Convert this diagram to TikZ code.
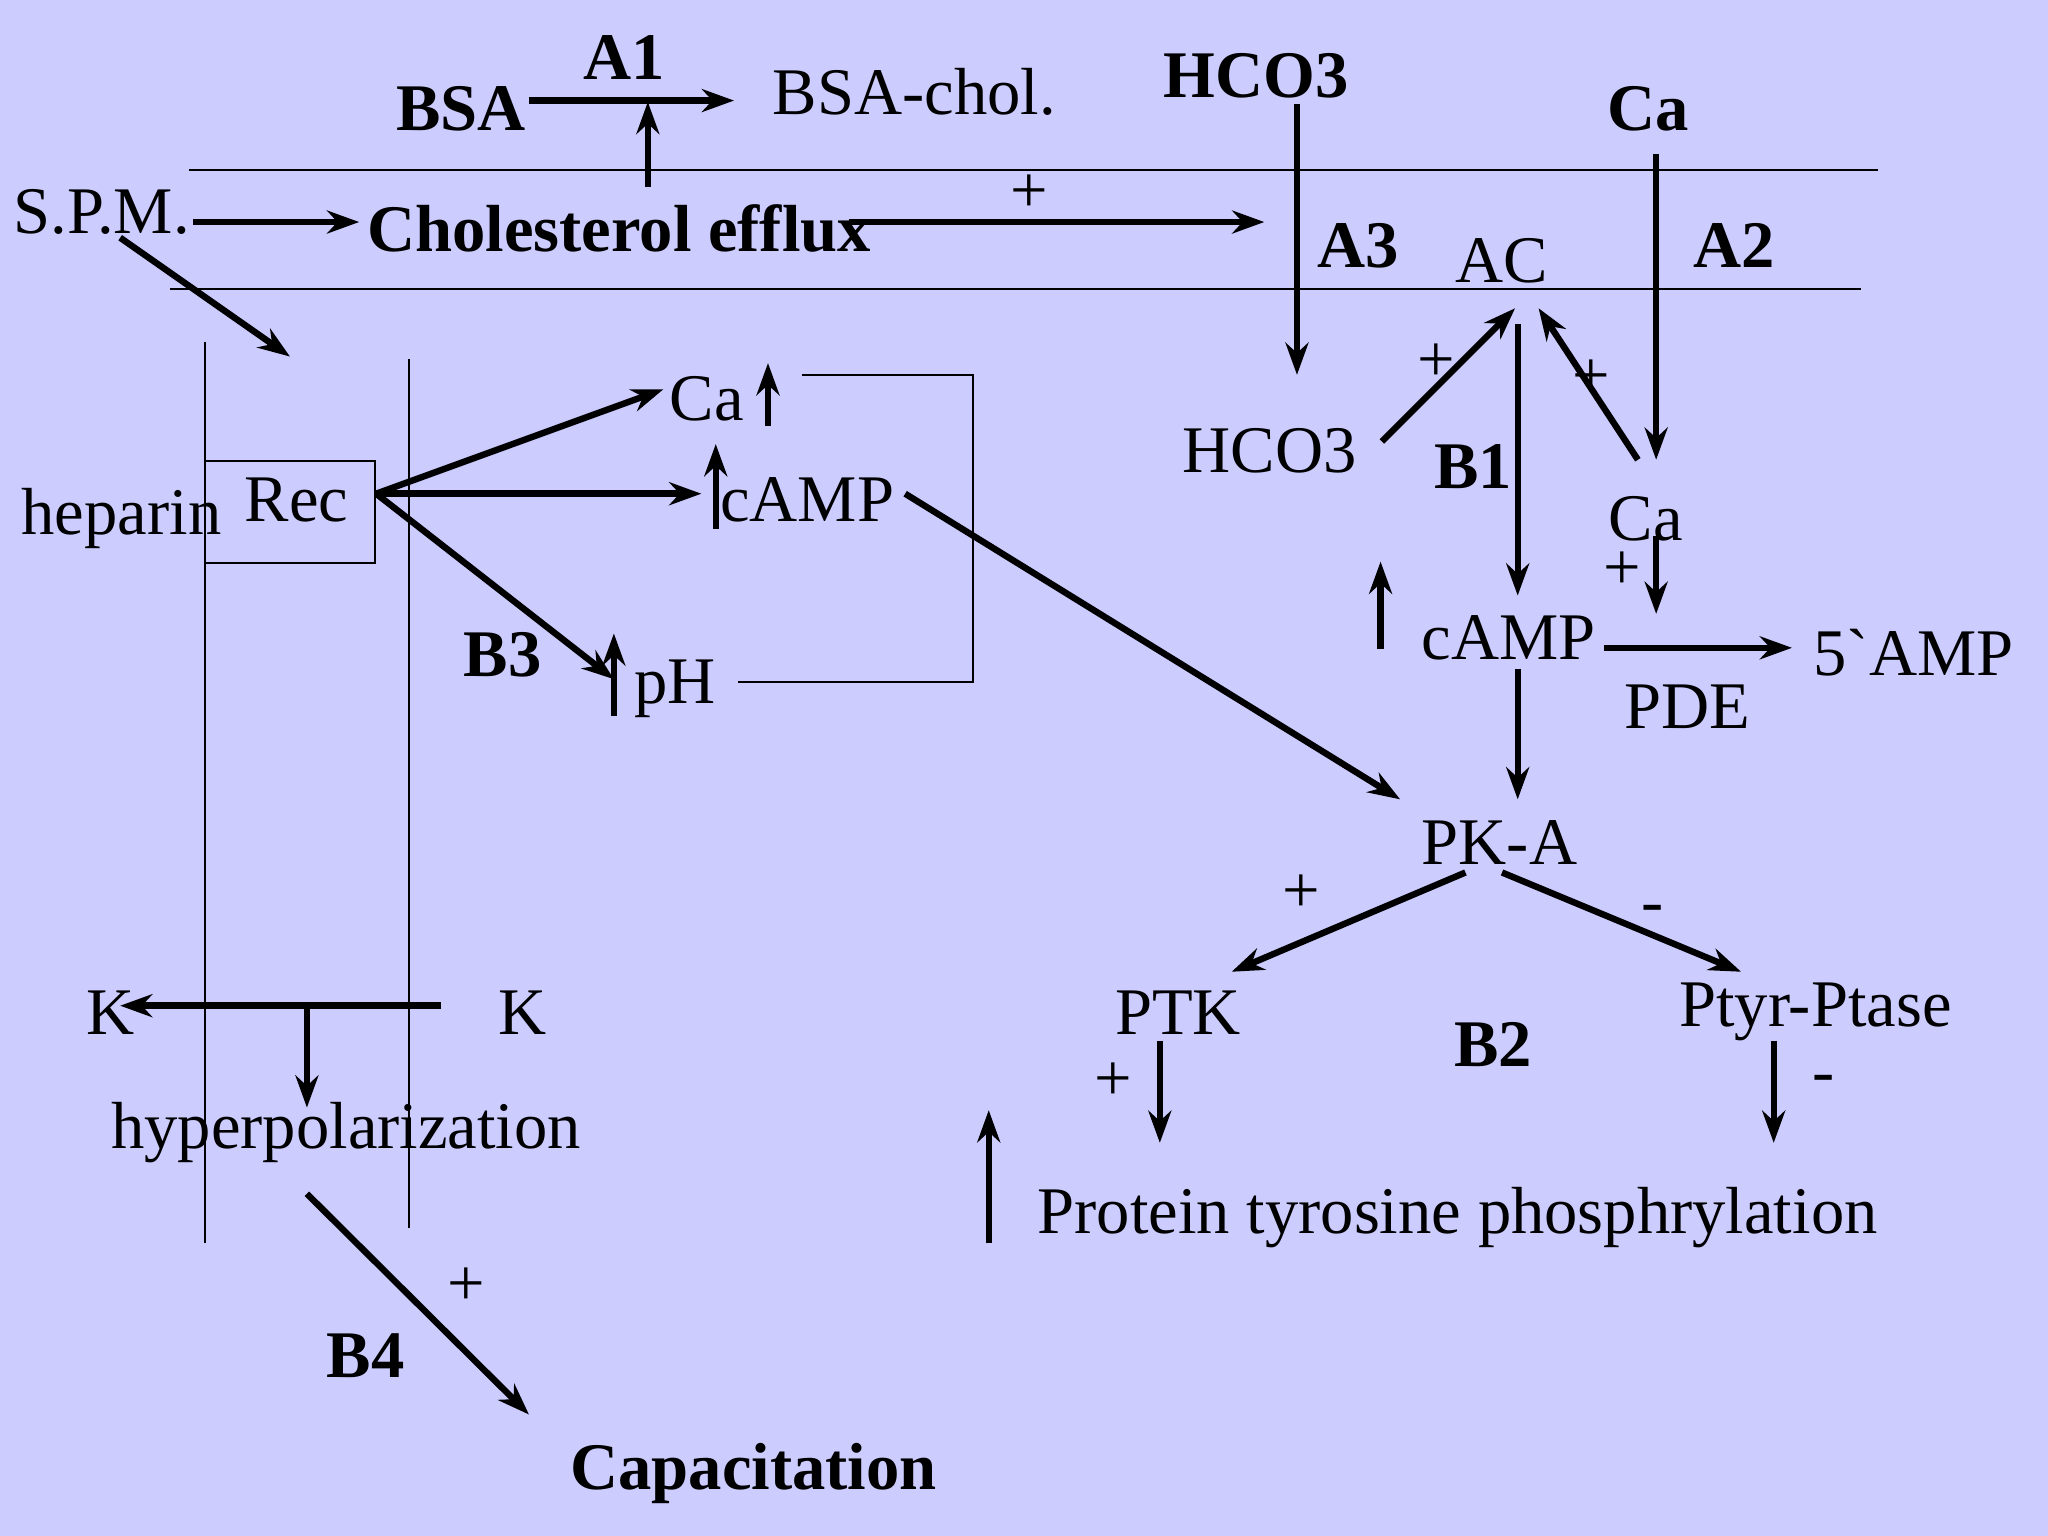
\documentclass[tikz,border=0pt]{standalone}
\usepackage{fontspec}
\setmainfont{Liberation Serif}
\usetikzlibrary{arrows.meta}
\definecolor{bg}{RGB}{204,204,255}
\begin{document}
\begin{tikzpicture}[x=0.01cm,y=-0.01cm,
 t/.style={font=\fontsize{14.5}{16}\selectfont,inner sep=0pt},
 b/.style={t,font=\fontsize{14.5}{16}\selectfont\bfseries},
 a/.style={line width=1.4pt,-{Stealth[length=7pt,width=5pt]}},
 l/.style={line width=0.5pt}]
\fill[bg] (0,0) rectangle (1568,1176);
\useasboundingbox (0,0) rectangle (1568,1176);
% membranes
\draw[l] (145,130)--(1438,130);
\draw[l] (130,221)--(1425,221);
\draw[l] (157,262)--(157,952);
\draw[l] (313,275)--(313,940);
\draw[l] (157,353) rectangle (287,431);
\draw[l] (614,287)--(745,287)--(745,522)--(565,522);
% texts
\node[b] (bsa) at (353,83) {BSA};
\node[b] at (478,44) {A1};
\node[t] (bsach) at (700,70) {BSA-chol.};
\node[b] at (962,58) {HCO3};
\node[b] at (1262,83) {Ca};
\node[t] (spm) at (78,162) {S.P.M.};
\node[b] (chol) at (474,175) {Cholesterol efflux};
\node[t] at (788,148) {+};
\node[b] at (1040,188) {A3};
\node[t] (ac) at (1150,200) {AC};
\node[b] at (1328,188) {A2};
\node[t] at (93,397) {heparin};
\node[t] (rec) at (227,383) {Rec};
\node[t] at (541,305) {Ca};
\node[t] at (618,383) {cAMP};
\node[t] at (517,527) {pH};
\node[b] at (385,501) {B3};
\node[t] at (972,345) {HCO3};
\node[t] at (1100,278) {+};
\node[t] at (1218,290) {+};
\node[b] at (1128,357) {B1};
\node[t] at (1260,397) {Ca};
\node[t] at (1242,437) {+};
\node[t] at (1155,488) {cAMP};
\node[t] at (1465,500) {5\textasciigrave AMP};
\node[t] at (1292,541) {PDE};
\node[t] at (1148,645) {PK-A};
\node[t] at (996,684) {+};
\node[t] at (1265,700) {-};
\node[t] at (902,775) {PTK};
\node[b] at (1143,800) {B2};
\node[t] at (1390,775) {Ptyr-Ptase};
\node[t] at (852,828) {+};
\node[t] at (1396,830) {-};
\node[t] at (1116,932) {Protein tyrosine phosphrylation};
\node[t] at (85,775) {K};
\node[t] at (400,775) {K};
\node[t] at (265,867) {hyperpolarization};
\node[t] at (357,985) {+};
\node[b] at (280,1038) {B4};
\node[b] at (577,1128) {Capacitation};
% arrows
\draw[a] (405,77)--(562,77);
\draw[a] (496,143)--(496,78);
\draw[a] (148,170)--(275,170);
\draw[a] (650,170)--(968,170);
\draw[a] (993,80)--(993,287);
\draw[a] (1268,118)--(1268,352);
\draw[a] (92,182)--(222,273);
\draw[a] (288,378)--(508,298);
\draw[a] (288,378)--(537,378);
\draw[a] (288,378)--(470,520);
\draw[a] (588,326)--(588,278);
\draw[a] (548,405)--(548,340);
\draw[a] (470,548)--(470,485);
\draw[a] (693,378)--(1072,612);
\draw[a] (1058,338)--(1160,236);
\draw[a] (1254,352)--(1178,236);
\draw[a] (1162,248)--(1162,456);
\draw[a] (1057,497)--(1057,430);
\draw[a] (1268,410)--(1268,470);
\draw[a] (1228,496)--(1372,496);
\draw[a] (1162,512)--(1162,612);
\draw[a] (1122,668)--(943,744);
\draw[a] (1150,668)--(1333,744);
\draw[a] (888,797)--(888,875);
\draw[a] (1358,797)--(1358,875);
\draw[a] (757,952)--(757,850);
\draw[a] (338,770)--(92,770);
\draw[a] (235,770)--(235,848);
\draw[a] (235,914)--(405,1083);
\end{tikzpicture}
\end{document}
